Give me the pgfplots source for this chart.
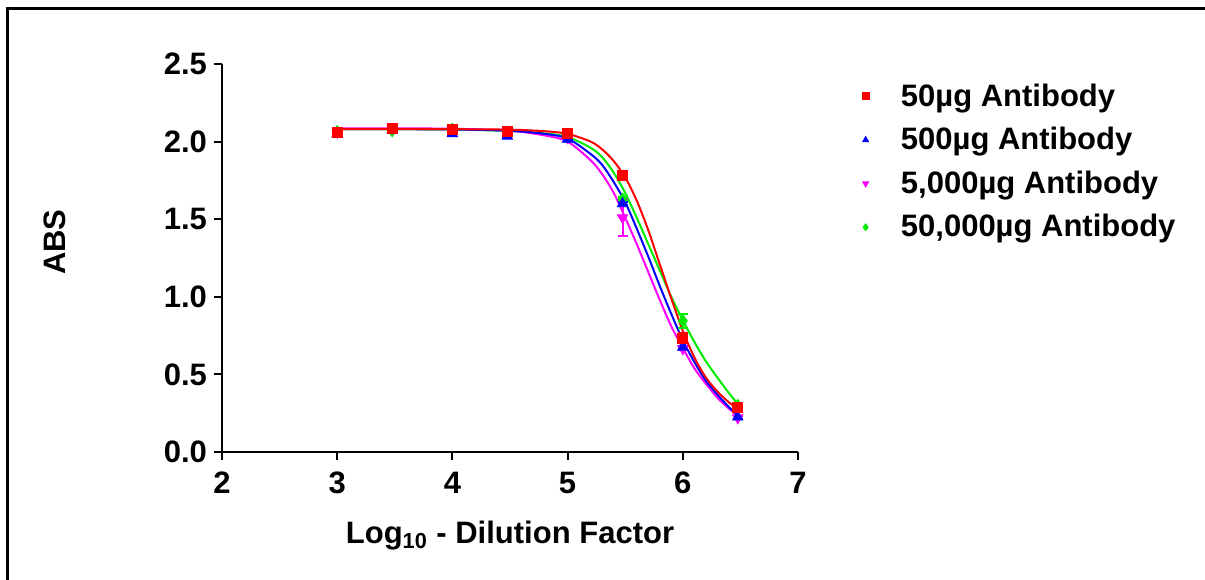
\documentclass[border=0pt]{standalone}
\usepackage{fontspec}
\setmainfont{Liberation Sans}
\usepackage{pgfplots}
\pgfplotsset{compat=1.18}

\definecolor{pRed}{RGB}{255,0,0}
\definecolor{pBlue}{RGB}{0,0,255}
\definecolor{pMag}{RGB}{255,0,255}
\definecolor{pGreen}{RGB}{0,235,0}

\newcommand{\lbl}{\fontsize{15.5}{18}\selectfont\bfseries}

\pgfplotsset{dotleg/.style={legend image code/.code={%
    \path[draw=none, fill=none] (0cm,0cm) -- (0.75cm,0cm);
    \draw[##1, only marks, mark size=1.7pt] plot coordinates {(0.2cm,0cm)};}}}

\begin{document}
\begin{tikzpicture}
\path[use as bounding box] (0,0) rectangle (602.5pt,289.5pt);
\draw[line width=1.5pt] (3.75pt,-2pt) -- (3.75pt,285pt) -- (606pt,285pt);
\begin{axis}[
  at={(111pt,63.5pt)}, anchor=south west,
  scale only axis, width=288pt, height=194pt,
  xmin=2, xmax=7, ymin=0, ymax=2.5,
  axis x line*=bottom, axis y line*=left,
  axis line style={line width=1pt, -},
  xtick={2,3,4,5,6,7}, ytick={0,0.5,1,1.5,2,2.5},
  tick align=outside, major tick length=4pt,
  tick style={line width=1pt, black},
  /pgf/number format/assume math mode=true,
  ticklabel style={font=\lbl},
  xticklabel style={yshift=-2.5pt},
  yticklabel style={/pgf/number format/.cd, fixed, fixed zerofill, precision=1},
  xlabel={Log\textsubscript{10} - Dilution Factor},
  x label style={at={(rel axis cs:0.5,0)}, anchor=base, yshift=-45.5pt, font=\lbl},
  ylabel={ABS},
  y label style={at={(rel axis cs:-0.29,0.541)}, anchor=center, font=\lbl},
  legend style={at={(rel axis cs:1.097,0.961)}, anchor=north west, draw=none, fill=none,
    font=\lbl, row sep=5.1pt, inner sep=0pt},
  legend cell align=left,
  reverse legend,
  error bars/error bar style={line width=1pt},
  error bars/error mark options={rotate=90, mark size=2.5pt, line width=1pt},
]
% fitted curves
\addplot[pGreen, line width=1pt, smooth, forget plot] coordinates {
(3,2.08) (3.5,2.08) (4,2.078) (4.5,2.068) (4.8,2.053) (5.0,2.03) (5.2,1.96)
(5.3,1.90) (5.4,1.80) (5.5,1.67) (5.6,1.51) (5.7,1.34) (5.8,1.17) (5.9,1.00)
(6.0,0.85) (6.1,0.71) (6.2,0.585) (6.3,0.48) (6.4,0.38) (6.477,0.31)};
\addplot[pMag, line width=1pt, smooth, forget plot] coordinates {
(3,2.085) (3.5,2.085) (4,2.083) (4.5,2.07) (4.8,2.04) (5.0,2.0) (5.2,1.88)
(5.3,1.79) (5.4,1.67) (5.5,1.51) (5.6,1.34) (5.7,1.16) (5.8,0.98) (5.9,0.81)
(6.0,0.67) (6.1,0.54) (6.2,0.44) (6.3,0.35) (6.4,0.28) (6.477,0.235)};
\addplot[pBlue, line width=1pt, smooth, forget plot] coordinates {
(3,2.08) (3.5,2.08) (4,2.078) (4.5,2.07) (4.8,2.05) (5.0,2.02) (5.2,1.92)
(5.3,1.85) (5.4,1.74) (5.5,1.61) (5.6,1.44) (5.7,1.26) (5.8,1.07) (5.9,0.89)
(6.0,0.72) (6.1,0.58) (6.2,0.46) (6.3,0.37) (6.4,0.29) (6.477,0.235)};
\addplot[pRed, line width=1pt, smooth, forget plot] coordinates {
(3,2.08) (3.5,2.08) (4,2.08) (4.5,2.077) (4.8,2.067) (5.0,2.05) (5.2,2.0)
(5.3,1.95) (5.4,1.875) (5.5,1.77) (5.6,1.62) (5.7,1.43) (5.8,1.21) (5.9,0.99)
(6.0,0.78) (6.1,0.61) (6.2,0.48) (6.3,0.39) (6.4,0.32) (6.477,0.28)};

% measured points
\addplot[only marks, dotleg, pGreen, mark=diamond*, mark size=3pt,
  error bars/.cd, y dir=both, y explicit] coordinates {
(3,2.065) +- (0,0.005) (3.477,2.07) +- (0,0.005) (4,2.08) +- (0,0.005)
(4.477,2.06) +- (0,0.005) (5,2.03) +- (0,0.005) (5.477,1.63) +- (0,0.01)
(6,0.845) +- (0,0.045) (6.477,0.30) +- (0,0.01)};
\addlegendentry{50,000µg Antibody}
\addplot[only marks, dotleg, pMag, mark=triangle*, mark size=3pt, mark options={rotate=180},
  error bars/.cd, y dir=both, y explicit] coordinates {
(3,2.06) +- (0,0.005) (3.477,2.085) +- (0,0.005) (4,2.08) +- (0,0.005)
(4.477,2.065) +- (0,0.005) (5,2.025) +- (0,0.005) (5.477,1.51) +- (0,0.12)
(6,0.665) +- (0,0.01) (6.477,0.22) +- (0,0.01)};
\addlegendentry{5,000µg Antibody}
\addplot[only marks, dotleg, pBlue, mark=triangle*, mark size=3pt,
  error bars/.cd, y dir=both, y explicit] coordinates {
(3,2.05) +- (0,0.005) (3.477,2.075) +- (0,0.005) (4,2.05) +- (0,0.005)
(4.477,2.035) +- (0,0.005) (5,2.015) +- (0,0.005) (5.477,1.60) +- (0,0.01)
(6,0.675) +- (0,0.01) (6.477,0.225) +- (0,0.01)};
\addlegendentry{500µg Antibody}
\addplot[only marks, dotleg, pRed, mark=square*, mark size=2.5pt,
  error bars/.cd, y dir=both, y explicit] coordinates {
(3,2.057) +- (0,0.005) (3.477,2.086) +- (0,0.005) (4,2.081) +- (0,0.005)
(4.477,2.066) +- (0,0.005) (5,2.053) +- (0,0.005) (5.477,1.78) +- (0,0.02)
(6,0.735) +- (0,0.03) (6.477,0.285) +- (0,0.01)};
\addlegendentry{50µg Antibody}
\end{axis}
\end{tikzpicture}
\end{document}
